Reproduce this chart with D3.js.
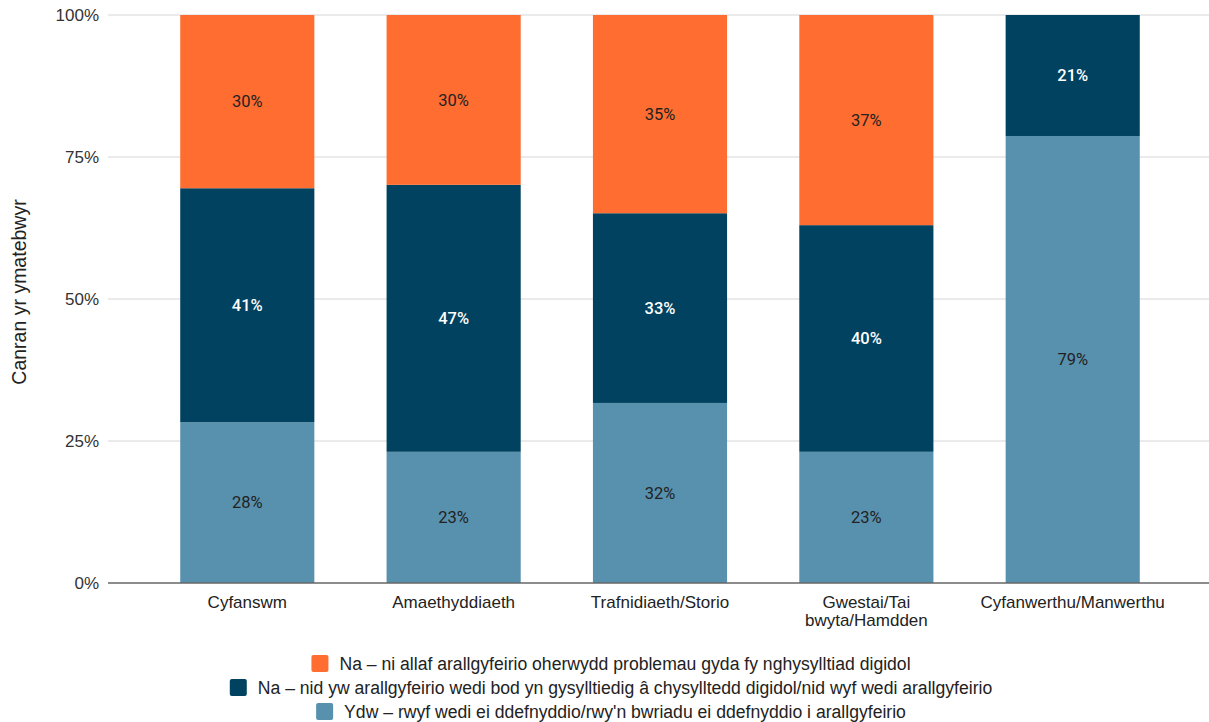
<!DOCTYPE html>
<html><head><meta charset="utf-8">
<script src="https://cdn.jsdelivr.net/npm/d3@7"></script>
<style>body{margin:0;background:#fff}svg{display:block}text{font-family:"Liberation Sans",Arial,sans-serif}</style>
</head><body><svg id="c" width="1209" height="722"></svg>
<script>
const categories = ["Cyfanswm","Amaethyddiaeth","Trafnidiaeth/Storio","Gwestai/Tai bwyta/Hamdden","Cyfanwerthu/Manwerthu"];
const ydw = [28.3, 23.1, 31.7, 23.1, 78.7];
const naNid = [41.2, 47.0, 33.4, 39.9, 21.3];
const naNiAllaf = [30.5, 29.9, 34.9, 37.0, 0];
const ydwLabels = ["28%","23%","32%","23%","79%"];
const naNidLabels = ["41%","47%","33%","40%","21%"];
const naNiAllafLabels = ["30%","30%","35%","37%",""];
const seriesNames = [
  "Ydw – rwyf wedi ei ddefnyddio/rwy'n bwriadu ei ddefnyddio i arallgyfeirio",
  "Na – nid yw arallgyfeirio wedi bod yn gysylltiedig â chysylltedd digidol/nid wyf wedi arallgyfeirio",
  "Na – ni allaf arallgyfeirio oherwydd problemau gyda fy nghysylltiad digidol"
];
const yTicks = [0, 25, 50, 75, 100];
const yTickLabels = ["0%","25%","50%","75%","100%"];
const xLabelLines = [["Cyfanswm"],["Amaethyddiaeth"],["Trafnidiaeth/Storio"],["Gwestai/Tai","bwyta/Hamdden"],["Cyfanwerthu/Manwerthu"]];
const yTitle = "Canran yr ymatebwyr";

const colors = ["#5891ae","#00425f","#ff6d31"];
const labelColors = ["#222","#fff","#222"];

const svg = d3.select("#c");
const x = d3.scaleBand().domain(categories).range([108,1212]).paddingInner(0.35).paddingOuter(0.35);
const y = d3.scaleLinear().domain([0,100]).range([583,15]);

svg.append("g").selectAll("line").data(yTicks.filter(d=>d>0)).join("line")
  .attr("x1",108).attr("x2",1209).attr("y1",d=>y(d)).attr("y2",d=>y(d))
  .attr("stroke","#d6d6d6").attr("stroke-width",1);

svg.append("g").selectAll("text").data(yTicks).join("text")
  .attr("x",99).attr("y",d=>y(d)).attr("dy","0.35em").attr("text-anchor","end")
  .attr("font-size",17).attr("fill","#333").text((d,i)=>yTickLabels[i]);

svg.append("text").attr("transform","translate(26,292) rotate(-90)").attr("text-anchor","middle")
  .attr("font-size",19.5).attr("fill","#222").text(yTitle);

const rows = categories.map((c,i)=>({cat:c, vals:[ydw[i],naNid[i],naNiAllaf[i]], labs:[ydwLabels[i],naNidLabels[i],naNiAllafLabels[i]]}));
const stack = d3.stack().keys([0,1,2]).value((d,k)=>d.vals[k]);
const stacked = stack(rows);

stacked.forEach((layer,k)=>{
  svg.append("g").selectAll("rect").data(layer).join("rect")
    .attr("x",d=>x(d.data.cat)).attr("width",x.bandwidth())
    .attr("y",d=>y(Math.min(100,d[1]))).attr("height",d=>Math.max(0,y(d[0])-y(Math.min(100,d[1]))))
    .attr("fill",colors[k]);
});
stacked.forEach((layer,k)=>{
  svg.append("g").selectAll("text").data(layer.filter(d=>d[1]-d[0]>0)).join("text")
    .attr("x",d=>x(d.data.cat)+x.bandwidth()/2)
    .attr("y",d=>(y(d[0])+y(Math.min(100,d[1])))/2).attr("dy","0.35em")
    .attr("text-anchor","middle").attr("font-size",16.5)
    .style("font-family","Roboto,'Liberation Sans',sans-serif")
    .attr("font-weight",k===1?500:400).attr("fill",labelColors[k])
    .text(d=>d.data.labs[k]);
});

svg.append("line").attr("x1",108).attr("x2",1209).attr("y1",y(0)).attr("y2",y(0))
  .attr("stroke","#666").attr("stroke-width",1.5);

categories.forEach((c,i)=>{
  const cx = x(c)+x.bandwidth()/2;
  const t = svg.append("text").attr("text-anchor","middle").attr("font-size",17).attr("fill","#222")
    .attr("x",cx).attr("y",608);
  xLabelLines[i].forEach((ln,j)=>t.append("tspan").attr("x",cx).attr("dy",j?18:0).text(ln));
});

const legendOrder = [2,1,0];
const legY = [663.5,687.5,711.5];
legendOrder.forEach((k,j)=>{
  const g = svg.append("g");
  const t = g.append("text").attr("font-size",17.6).attr("fill","#222").attr("y",legY[j]).attr("dy","0.35em").text(seriesNames[k]);
  const w = t.node().getComputedTextLength();
  const total = 17+11+w;
  const x0 = 611 - total/2;
  g.append("rect").attr("x",x0).attr("y",legY[j]-8.5).attr("width",17).attr("height",17).attr("rx",2).attr("fill",colors[k]);
  t.attr("x",x0+28);
});
</script></body></html>
